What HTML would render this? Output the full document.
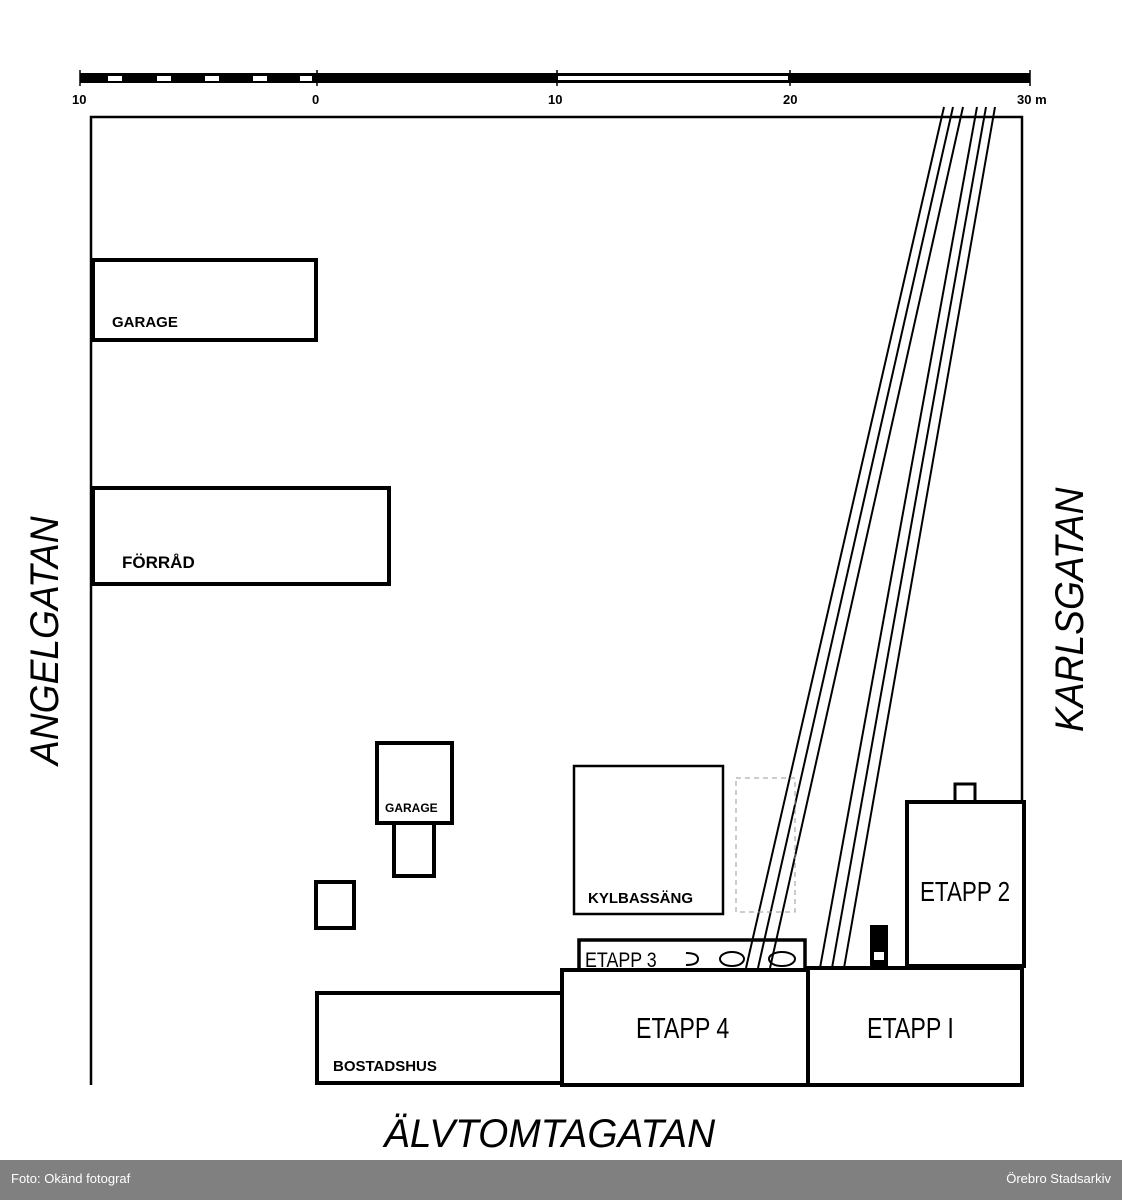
<!DOCTYPE html>
<html><head><meta charset="utf-8"><style>
html,body{margin:0;padding:0;background:#fff;}
body{width:1122px;height:1200px;position:relative;overflow:hidden;font-family:"Liberation Sans",sans-serif;}
.foot{position:absolute;left:0;top:1160px;width:1122px;height:40px;background:#808080;color:#fff;font-size:13px;}
</style></head><body>
<svg width="1122" height="1160" viewBox="0 0 1122 1160" style="position:absolute;left:0;top:0">
<rect x="80" y="73" width="950" height="10" fill="#000"/>
<rect x="558" y="76" width="230" height="4" fill="#fff"/>
<g fill="#fff"><rect x="108" y="76" width="14" height="5"/><rect x="157" y="76" width="14" height="5"/><rect x="205" y="76" width="14" height="5"/><rect x="253" y="76" width="14" height="5"/><rect x="300" y="76" width="12" height="5"/></g>
<g stroke="#000" stroke-width="1.5"><line x1="80" y1="70" x2="80" y2="86"/><line x1="317" y1="70" x2="317" y2="86"/><line x1="557" y1="70" x2="557" y2="86"/><line x1="790" y1="70" x2="790" y2="86"/><line x1="1030" y1="70" x2="1030" y2="86"/></g>
<g font-family="Liberation Sans" font-size="13" font-weight="bold" fill="#000">
<text x="72" y="104">10</text><text x="312" y="104">0</text><text x="548" y="104">10</text><text x="783" y="104">20</text><text x="1017" y="104">30 m</text></g>
<polyline points="91,1085 91,117 1022,117 1022,800" fill="none" stroke="#000" stroke-width="2.5"/>
<g stroke="#000" stroke-width="2" fill="none">
<line x1="944" y1="107" x2="746" y2="968"/><line x1="953" y1="107" x2="758" y2="968"/><line x1="963" y1="107" x2="770" y2="968"/>
<line x1="977" y1="107" x2="820" y2="968"/><line x1="986" y1="107" x2="832" y2="968"/><line x1="995" y1="107" x2="844" y2="968"/>
</g>
<g fill="none" stroke="#000" stroke-width="4">
<rect x="93" y="260" width="223" height="80"/>
<rect x="93" y="488" width="296" height="96"/>
<rect x="377" y="743" width="75" height="80"/>
<rect x="394" y="823" width="40" height="53"/>
<rect x="316" y="882" width="38" height="46"/>
<rect x="579" y="940" width="226" height="30" stroke-width="3.5"/>
<rect x="562" y="970" width="246" height="115"/>
<rect x="808" y="968" width="214" height="117"/>
<rect x="907" y="802" width="117" height="164"/>
<rect x="955" y="784" width="20" height="18" stroke-width="3"/>
<rect x="317" y="993" width="245" height="90"/>
</g>
<rect x="574" y="766" width="149" height="148" fill="none" stroke="#000" stroke-width="2.5"/>
<rect x="736" y="778" width="59" height="134" fill="none" stroke="#999" stroke-width="1" stroke-dasharray="5,4"/>
<rect x="870" y="925" width="18" height="43" fill="#000"/>
<rect x="874" y="952" width="10" height="8" fill="#fff"/>
<g fill="none" stroke="#000" stroke-width="2"><path d="M686 953 q12 0 12 6 q0 6 -12 6"/><ellipse cx="732" cy="959" rx="12" ry="7"/><ellipse cx="782" cy="959" rx="13" ry="7"/></g>
<g font-family="Liberation Sans" fill="#000">
<text x="112" y="327" font-size="15" font-weight="bold">GARAGE</text>
<text x="122" y="568" font-size="17" font-weight="bold">FÖRRÅD</text>
<text x="385" y="812" font-size="12" font-weight="bold">GARAGE</text>
<text x="588" y="903" font-size="15" font-weight="bold">KYLBASSÄNG</text>
<text x="585" y="967" font-size="21" transform="translate(585 0) scale(0.85 1) translate(-585 0)">ETAPP 3</text>
<text x="636" y="1038" font-size="29" transform="translate(636 0) scale(0.8 1) translate(-636 0)">ETAPP  4</text>
<text x="867" y="1038" font-size="29" transform="translate(867 0) scale(0.8 1) translate(-867 0)">ETAPP I</text>
<text x="920" y="901" font-size="28" transform="translate(920 0) scale(0.8 1) translate(-920 0)">ETAPP 2</text>
<text x="333" y="1071" font-size="15" font-weight="bold">BOSTADSHUS</text>
<text x="384" y="1147" font-size="40" font-style="italic" transform="translate(384 0) scale(0.97 1) translate(-384 0)">ÄLVTOMTAGATAN</text>
<text font-size="40" font-style="italic" transform="translate(58 765) rotate(-90) scale(0.93 1)">ANGELGATAN</text>
<text font-size="40" font-style="italic" transform="translate(1083 732) rotate(-90) scale(0.93 1)">KARLSGATAN</text>
</g>
</svg>
<div class="foot"><span style="position:absolute;left:11px;top:11px">Foto: Okänd fotograf</span><span style="position:absolute;right:11px;top:11px">Örebro Stadsarkiv</span></div>
</body></html>
